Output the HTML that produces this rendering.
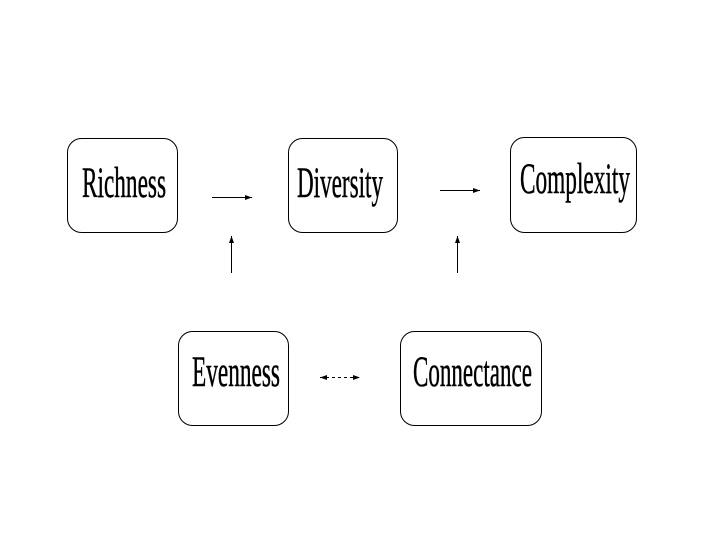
<!DOCTYPE html>
<html><head><style>body{margin:0;background:#fff}</style></head><body>
<svg width="720" height="540" xmlns="http://www.w3.org/2000/svg">
<defs><marker id="a" markerWidth="8" markerHeight="6" refX="7" refY="3" orient="auto" markerUnits="userSpaceOnUse"><path d="M0,0.5 L7,3 L0,5.5 Z" fill="#000"/></marker>
<marker id="b" markerWidth="8" markerHeight="6" refX="1" refY="3" orient="auto" markerUnits="userSpaceOnUse"><path d="M8,0.5 L1,3 L8,5.5 Z" fill="#000"/></marker></defs>
<g fill="none" stroke="#000" stroke-width="1">
<rect x="67.5" y="138.5" width="110" height="94" rx="14"/>
<rect x="288.5" y="138.5" width="109" height="94" rx="14"/>
<rect x="510.5" y="137.5" width="126" height="95" rx="14"/>
<rect x="178.5" y="331.5" width="110" height="94" rx="14"/>
<rect x="400.5" y="331.5" width="141" height="94" rx="14"/>
<line x1="212" y1="197.5" x2="252" y2="197.5" marker-end="url(#a)"/>
<line x1="440" y1="190.5" x2="480" y2="190.5" marker-end="url(#a)"/>
<line x1="231.5" y1="273" x2="231.5" y2="236" marker-end="url(#a)"/>
<line x1="457.5" y1="273" x2="457.5" y2="236" marker-end="url(#a)"/>
<line x1="320" y1="377.5" x2="360" y2="377.5" stroke-dasharray="3,3" marker-start="url(#b)" marker-end="url(#a)"/>
</g>
<g font-family="Liberation Serif, serif" font-size="43" fill="#000" stroke="#000" stroke-width="0.5">
<text x="82" y="197" textLength="84" lengthAdjust="spacingAndGlyphs">Richness</text>
<text x="297" y="197" textLength="86" lengthAdjust="spacingAndGlyphs">Diversity</text>
<text x="520" y="193" textLength="110" lengthAdjust="spacingAndGlyphs">Complexity</text>
<text x="192" y="386" textLength="88" lengthAdjust="spacingAndGlyphs">Evenness</text>
<text x="413" y="386" textLength="119" lengthAdjust="spacingAndGlyphs">Connectance</text>
</g>
</svg>
</body></html>
